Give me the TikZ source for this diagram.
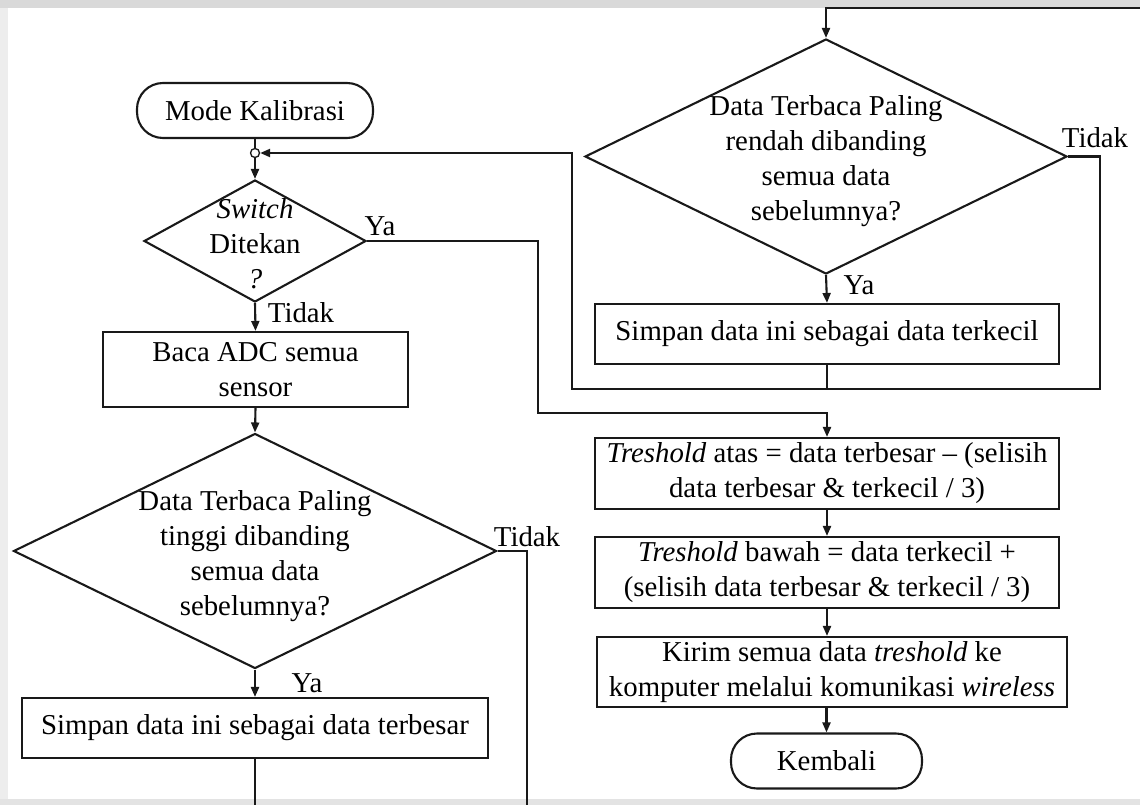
\documentclass[tikz,border=0pt]{standalone}
\usepackage{fontspec}
\setmainfont{Liberation Serif}
\usetikzlibrary{shapes.geometric,arrows.meta}

\begin{document}
\begin{tikzpicture}[x=1pt,y=-1pt,
  txt/.style={font=\fontsize{28.8}{35}\selectfont, align=center},
  flowline/.style={line width=2.1pt, draw=black!90},
  arr/.style={flowline, -{Triangle[length=10pt,width=8pt]}},
  procbox/.style={txt, draw=black!90, line width=2.1pt, rectangle, inner sep=1pt},
  decision/.style={draw=black!90, line width=2.1pt, diamond, inner sep=0pt},
  terminal/.style={txt, draw=black!90, line width=2.1pt, rectangle, rounded corners=26pt, inner sep=2pt},
  lbl/.style={txt, inner sep=0pt}
]
\useasboundingbox (0,0) rectangle (1140,805);
% page background with light grey margins
\fill[white] (0,0) rectangle (1140,805);
\fill[gray!30] (0,0) rectangle (1140,8);
\fill[gray!14] (0,8) rectangle (8,805);
\fill[gray!22] (0,799) rectangle (1140,805);

% ---- left column ----
\node[terminal, minimum width=236pt, minimum height=55pt] (mode) at (255,110.5) {Mode Kalibrasi};
\node[circle, draw=black!90, line width=1.3pt, fill=white, minimum size=9pt, inner sep=0pt] (junc) at (255,153) {};
\node[decision, minimum width=222pt, minimum height=122pt] (dsw) at (255,241) {};
\node[lbl] (dswt) at (255,244) {\textit{Switch}\\Ditekan\\\textit{?}};
\node[procbox, minimum width=305pt, minimum height=75pt] (baca) at (255.5,369.5) {Baca ADC semua\\sensor};
\node[decision, minimum width=483pt, minimum height=235pt] (dmax) at (255,551) {};
\node[lbl] (dmaxt) at (255,556) {Data Terbaca Paling\\tinggi dibanding\\semua data\\sebelumnya?};
\node[procbox, minimum width=466pt, minimum height=60pt] (sbesar) at (255,728) {Simpan data ini sebagai data terbesar};

% ---- right column ----
\node[decision, minimum width=482pt, minimum height=235pt] (dmin) at (826,156.5) {};
\node[lbl] (dmint) at (826,161) {Data Terbaca Paling\\rendah dibanding\\semua data\\sebelumnya?};
\node[procbox, minimum width=464pt, minimum height=60pt] (skecil) at (827,334) {Simpan data ini sebagai data terkecil};
\node[procbox, minimum width=464pt, minimum height=71pt] (tatas) at (827,473.5) {\textit{Treshold} atas = data terbesar \textendash{} (selisih\\data terbesar \& terkecil / 3)};
\node[procbox, minimum width=464pt, minimum height=71pt] (tbawah) at (827,572.5) {\textit{Treshold} bawah = data terkecil +\\(selisih data terbesar \& terkecil / 3)};
\node[procbox, minimum width=470pt, minimum height=70pt] (kirim) at (832,672) {Kirim semua data \textit{treshold} ke\\komputer melalui komunikasi \textit{wireless}};
\node[terminal, minimum width=191pt, minimum height=55pt] (kembali) at (826.5,761) {Kembali};

% ---- branch labels ----
\node[lbl] (lya1) at (380,226) {Ya};
\node[lbl] (ltd1) at (301,313) {Tidak};
\node[lbl] (ltd2) at (527,537) {Tidak};
\node[lbl] (lya2) at (307,683) {Ya};
\node[lbl] (ltd3) at (1095,138) {Tidak};
\node[lbl] (lya3) at (859,285) {Ya};

% ---- routing points ----
\coordinate (outL) at (255,805);
\coordinate (outR) at (527,805);
\coordinate (inTop) at (1140,8);
\coordinate (loopR) at (1100,389);
\coordinate (loopL) at (572,389);
\coordinate (yaB) at (538,413);

% ---- connectors ----
\draw[flowline] (mode.south) -- (junc.north);
\draw[arr] (junc.south) -- (dsw.north);
\draw[arr] (dsw.south) -- (baca.north);
\draw[arr] (baca.south) -- (dmax.north);
\draw[arr] (dmax.south) -- (sbesar.north);
\draw[flowline] (sbesar.south) -- (outL);
\draw[flowline] (dmax.east) -| (outR);
\draw[arr] (dsw.east) -| (yaB) -| (tatas.north);

\draw[arr] (inTop) -| (dmin.north);
\draw[arr] (dmin.south) -- (skecil.north);
\draw[flowline] (skecil.south) -- (skecil.south |- loopR);
\draw[arr] (dmin.east) -| (loopR) -- (loopL) |- (junc.east);

\draw[arr] (tatas.south) -- (tbawah.north);
\draw[arr] (tbawah.south) -- (tbawah.south |- kirim.north);
\draw[arr] (kirim.south -| kembali.north) -- (kembali.north);
\end{tikzpicture}
\end{document}
